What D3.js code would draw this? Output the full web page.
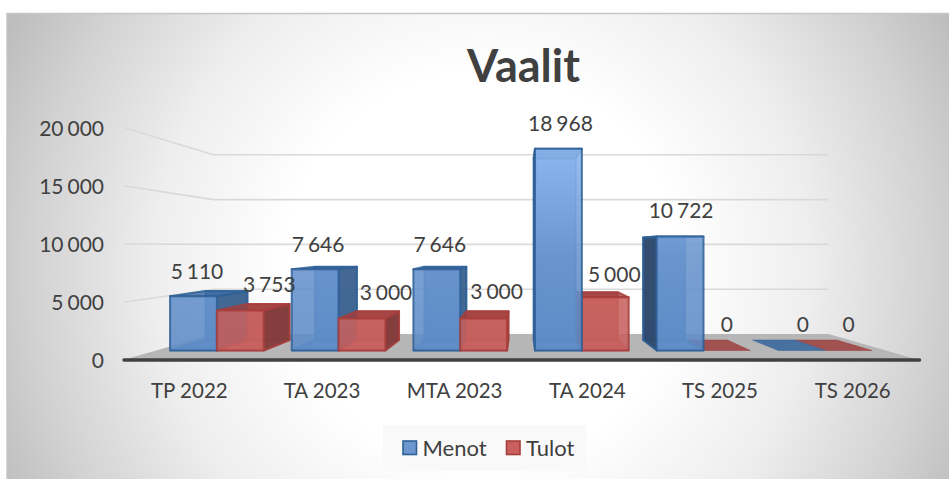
<!DOCTYPE html>
<html>
<head>
<meta charset="utf-8">
<script src="https://cdn.jsdelivr.net/npm/d3@7/dist/d3.min.js"></script>
<style>
html,body{margin:0;padding:0;background:#fff;overflow:hidden}
svg{display:block}
text{font-family:Lato,"Open Sans",sans-serif;fill:#404040}
</style>
</head>
<body>
<svg id="chart" width="949" height="479"></svg>
<script>
const categories = ["TP 2022","TA 2023","MTA 2023","TA 2024","TS 2025","TS 2026"];
const seriesNames = ["Menot","Tulot"];
const menot = [5110,7646,7646,18968,10722,0];
const tulot = [3753,3000,3000,5000,0,0];
const yTicks = [0,5000,10000,15000,20000];
const title = "Vaalit";

// label placement relative to the front face centre / top of bar (layout, not data)
const menotLabelShift = [[3.5,-25],[3,-25],[3,-25],[2,-25],[1,-25.7],[1,-26]];
const tulotLabelShift = [[29,-25.6],[24,-26],[13,-26.5],[9,-23],[0,-26],[0,-26]];

const svg = d3.select("#chart");
const fmt = v => d3.format(",")(v).replace(/,/g,"\u2009\u200a");

const defs = svg.append("defs");
const bg = defs.append("radialGradient").attr("id","bg").attr("gradientUnits","userSpaceOnUse")
  .attr("cx",482).attr("cy",268).attr("r",530);
[[0,"#ffffff"],[0.37,"#ffffff"],[0.62,"#eeeeee"],[0.85,"#d2d2d2"],[1,"#bdbdbd"]].forEach(s=>bg.append("stop").attr("offset",s[0]).attr("stop-color",s[1]));
function vgrad(id,stops){
  const g = defs.append("linearGradient").attr("id",id).attr("gradientUnits","userSpaceOnUse")
    .attr("x1",0).attr("x2",0).attr("y1",150).attr("y2",350);
  stops.forEach(s=>g.append("stop").attr("offset",s[0]).attr("stop-color",s[1]));
}
vgrad("blueFront",[[0,"#8ab6ee"],[0.55,"#6893cc"],[1,"#5c8bc6"]]);
vgrad("redFront",[[0,"#dc7874"],[0.7,"#c8625f"],[1,"#c65f5d"]]);

svg.append("rect").attr("x",7).attr("y",13).attr("width",942).attr("height",466)
  .attr("fill","url(#bg)");
svg.append("path").attr("d","M7,479V13.5H949").attr("fill","none").attr("stroke","#c6c6c6").attr("stroke-width",1.5);

// scales
const yScale = d3.scaleLinear().domain([0,20000]).range([360,128]);
const xBand = d3.scaleBand().domain(categories).range([123,919]).paddingInner(0.23).paddingOuter(0.115);
const xInner = d3.scaleBand().domain(seriesNames).range([0,xBand.bandwidth()]);
const vp = {x:521.5,y:245.7};
const zFloor = d3.scaleLinear().domain([0,1]).range([1,0.7726]);
const zBar = d3.scaleLinear().domain([0,1]).range([0.917,0.825]);
const proj = (u,v,s)=>[vp.x+(u-vp.x)*s, vp.y+(yScale(v)-vp.y)*s];
const poly = pts => "M"+pts.map(p=>p[0].toFixed(2)+","+p[1].toFixed(2)).join("L")+"Z";

// floor
const plotL = xBand.range()[0], plotR = xBand.range()[1];
svg.append("path").attr("d",poly([proj(plotL,0,zFloor(0)),proj(plotR,0,zFloor(0)),proj(plotR,0,zFloor(1)),proj(plotL,0,zFloor(1))]))
  .attr("fill","#b6b6b6");

// gridlines: left wall + back wall
const gridLine = d3.line();
svg.append("g").selectAll("path").data(yTicks.filter(d=>d>0)).join("path")
  .attr("d",d=>gridLine([proj(plotL+2,d,zFloor(0)),proj(plotL,d,zFloor(1)),proj(plotR,d,zFloor(1))]))
  .attr("fill","none").attr("stroke","#d9d9d9").attr("stroke-width",1.6);

// bars
const palette = {
  Menot:{front:"url(#blueFront)",stroke:"#2f6097",top:"#34659e",side:"#3f628d",sideFar:"#2b4566",inner:"#3f74b4"},
  Tulot:{front:"url(#redFront)",stroke:"#a63e3c",top:"#9c3f3e",side:"#7d3a3a",sideFar:"#7d3a3a",inner:"#b04543"}
};
const bars = [];
categories.forEach((c,i)=>{
  seriesNames.forEach((n,j)=>{
    const v = (j===0?menot:tulot)[i];
    const u0 = xBand(c)+xInner(n), u1 = u0+xInner.bandwidth();
    bars.push({c,n,v,u0,u1,mid:(u0+u1)/2});
  });
});
// painter's order: outside towards the vanishing point
bars.sort((a,b)=>Math.abs(b.mid-vp.x)-Math.abs(a.mid-vp.x));
const barG = svg.append("g");
bars.forEach(b=>{
  const pal = palette[b.n];
  const g = barG.append("g").attr("stroke-linejoin","round");
  const sF = zBar(0), sB = zBar(1);
  const P = proj;
  const face = (pts,fill,op,stroke,sw)=>g.append("path").attr("d",poly(pts)).attr("fill",fill).attr("fill-opacity",op)
      .attr("stroke",stroke||"none").attr("stroke-opacity",stroke?0.85:0).attr("stroke-width",sw||0);
  if(b.v===0){
    face([P(b.u0,0,sF),P(b.u1,0,sF),P(b.u1,0,sB),P(b.u0,0,sB)],pal.top,0.85,pal.top,0.6);
    return;
  }
  // back
  face([P(b.u0,0,sB),P(b.u1,0,sB),P(b.u1,b.v,sB),P(b.u0,b.v,sB)],pal.front,0.95,pal.inner,1.5);
  // bottom
  face([P(b.u0,0,sF),P(b.u1,0,sF),P(b.u1,0,sB),P(b.u0,0,sB)],pal.front,0.7,pal.inner,1.5);
  // side facing the vanishing point
  const near = b.mid<vp.x;
  const su = near ? b.u1 : b.u0;
  face([P(su,0,sF),P(su,0,sB),P(su,b.v,sB),P(su,b.v,sF)],near?pal.side:pal.sideFar,0.9,pal.stroke,2);
  // top
  face([P(b.u0,b.v,sF),P(b.u1,b.v,sF),P(b.u1,b.v,sB),P(b.u0,b.v,sB)],pal.top,0.8,pal.stroke,2);
  // front
  face([P(b.u0,0,sF),P(b.u1,0,sF),P(b.u1,b.v,sF),P(b.u0,b.v,sF)],pal.front,0.88,pal.stroke,2);
});

// axis line and x labels
const xAxis = d3.axisBottom(xBand).tickSize(0).tickPadding(23);
const xg = svg.append("g").attr("transform","translate(0,360)").call(xAxis);
xg.select(".domain").attr("stroke","#404040").attr("stroke-width",3.5).attr("stroke-linecap","round")
  .attr("d",d3.line()([[124,0],[919.5,0]]));
xg.selectAll("text").attr("font-size",20.5).attr("font-family",null);

// y axis labels
const yAxis = d3.axisLeft(yScale).tickValues(yTicks).tickFormat(fmt).tickSize(0).tickPadding(0);
const yg = svg.append("g").attr("transform","translate(104,1)").call(yAxis);
yg.select(".domain").remove();
yg.selectAll("text").attr("font-size",21).attr("font-family",null);

// data labels
const labels = [];
categories.forEach((c,i)=>{
  seriesNames.forEach((n,j)=>{
    const v = (j===0?menot:tulot)[i];
    const sh = (j===0?menotLabelShift:tulotLabelShift)[i];
    const u0 = xBand(c)+xInner(n), u1 = u0+xInner.bandwidth();
    const p = proj((u0+u1)/2,v,zBar(0));
    labels.push({v,x:p[0]+sh[0],y:p[1]+sh[1]});
  });
});
svg.append("g").selectAll("text").data(labels).join("text")
  .attr("x",d=>d.x).attr("y",d=>d.y).attr("dy","0.35em").attr("text-anchor","middle")
  .attr("font-size",21).text(d=>fmt(d.v));

// title
svg.append("text").attr("x",523.5).attr("y",82).attr("text-anchor","middle")
  .attr("font-size",45).attr("font-weight",700).text(title);

// legend
const lg = svg.append("g");
lg.append("rect").attr("x",383).attr("y",425).attr("width",203).attr("height",46).attr("fill","#f8f8f8").attr("fill-opacity",0.85);
const legendX = d3.scaleOrdinal().domain(seriesNames).range([403,506.5]);
seriesNames.forEach(n=>{
  const g = lg.append("g").attr("transform",`translate(${legendX(n)},441)`);
  g.append("rect").attr("width",13.5).attr("height",13.5)
    .attr("fill",n==="Menot"?"#6c96cd":"#c9605e")
    .attr("stroke",palette[n].stroke).attr("stroke-width",1.6);
  g.append("text").attr("x",19.5).attr("y",7).attr("dy","0.35em").attr("font-size",22).text(n);
});
</script>
</body>
</html>
